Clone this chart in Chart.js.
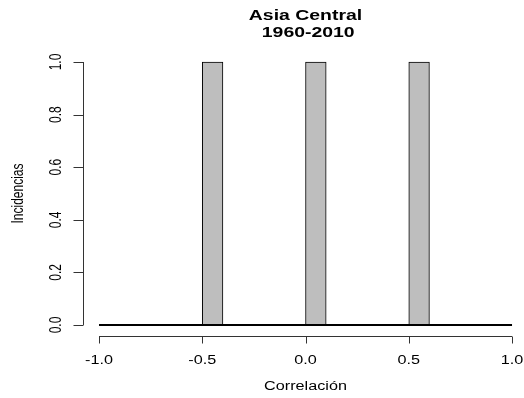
<!DOCTYPE html>
<html>
<head>
<meta charset="utf-8">
<script src="https://cdn.jsdelivr.net/npm/chart.js@4.4.0/dist/chart.umd.min.js"></script>
<style>
  html, body { margin: 0; padding: 0; background: #fff; }
  canvas { display: block; }
</style>
</head>
<body>
<canvas id="histChart" width="524" height="398"></canvas>
<script>
// Histogram data (bins of 0.1 from -1 to 1)
const binStarts = [-1.0, -0.9, -0.8, -0.7, -0.6, -0.5, -0.4, -0.3, -0.2, -0.1,
                   0.0, 0.1, 0.2, 0.3, 0.4, 0.5, 0.6, 0.7, 0.8, 0.9];
const binWidth = 0.1;
const counts = [0, 0, 0, 0, 0, 1, 0, 0, 0, 0,
                1, 0, 0, 0, 0, 1, 0, 0, 0, 0];

const xTickValues = [-1.0, -0.5, 0.0, 0.5, 1.0];
const xTickLabels = ['-1.0', '-0.5', '0.0', '0.5', '1.0'];
const yTickValues = [0.0, 0.2, 0.4, 0.6, 0.8, 1.0];
const yTickLabels = ['0.0', '0.2', '0.4', '0.6', '0.8', '1.0'];

const titleLines = ['Asia Central', ' 1960-2010'];
const xTitle = 'Correlación';
const yTitle = 'Incidencias';

const FONT = '"Liberation Sans", Arial, Helvetica, sans-serif';
const STRETCH = 1.35;

// draws text a bit wider than normal, like the R png output
function drawText(ctx, text, x, y, rotated) {
    ctx.save();
    ctx.translate(x, y);
    ctx.scale(STRETCH, 1);
    if (rotated) ctx.rotate(-Math.PI / 2);
    ctx.textAlign = 'center';
    ctx.textBaseline = 'alphabetic';
    ctx.fillText(text, 0, 0);
    ctx.restore();
}

// R style axes, tick labels and titles
const rAxesPlugin = {
    id: 'rAxes',
    afterDraw: function(chart) {
        const ctx = chart.ctx;
        const xs = chart.scales.x;
        const ys = chart.scales.y;
        const area = chart.chartArea;

        ctx.save();
        ctx.strokeStyle = '#333';
        ctx.lineWidth = 1;

        // y axis
        const yx = Math.round(area.left) + 0.5;
        ctx.beginPath();
        ctx.moveTo(yx, ys.getPixelForValue(yTickValues[0]));
        ctx.lineTo(yx, ys.getPixelForValue(yTickValues[yTickValues.length - 1]));
        yTickValues.forEach(function(v) {
            const py = Math.round(ys.getPixelForValue(v)) + 0.5;
            ctx.moveTo(yx, py);
            ctx.lineTo(yx - 10, py);
        });
        ctx.stroke();

        // x axis
        const xy = Math.round(area.bottom) + 0.5;
        ctx.beginPath();
        ctx.moveTo(xs.getPixelForValue(xTickValues[0]), xy);
        ctx.lineTo(xs.getPixelForValue(xTickValues[xTickValues.length - 1]), xy);
        xTickValues.forEach(function(v) {
            const px = Math.round(xs.getPixelForValue(v)) + 0.5;
            ctx.moveTo(px, xy);
            ctx.lineTo(px, xy + 7);
        });
        ctx.stroke();

        ctx.fillStyle = '#000';
        ctx.font = '12px ' + FONT;
        xTickValues.forEach(function(v, i) {
            drawText(ctx, xTickLabels[i], xs.getPixelForValue(v), xy + 27.5, false);
        });
        yTickValues.forEach(function(v, i) {
            drawText(ctx, yTickLabels[i], yx - 22.5, ys.getPixelForValue(v), true);
        });

        drawText(ctx, xTitle, (xs.getPixelForValue(-1) + xs.getPixelForValue(1)) / 2, 390, false);
        drawText(ctx, yTitle, 23, (ys.getPixelForValue(0) + ys.getPixelForValue(1)) / 2, true);

        ctx.font = 'bold 14.4px ' + FONT;
        const cx = (xs.getPixelForValue(-1) + xs.getPixelForValue(1)) / 2;
        drawText(ctx, titleLines[0], cx, 20, false);
        drawText(ctx, titleLines[1], cx, 36.5, false);
        ctx.restore();
    }
};

const ctx = document.getElementById('histChart');

new Chart(ctx, {
    type: 'bar',
    data: {
        datasets: [{
            type: 'bar',
            data: binStarts.map(function(s, i) { return { x: s + binWidth / 2, y: counts[i] }; }),
            backgroundColor: '#BEBEBE',
            borderColor: '#000',
            borderWidth: 1,
            borderSkipped: false,
            barPercentage: 1,
            categoryPercentage: 1,
            order: 2
        }, {
            // zero-height bins show up as a line along 0
            type: 'line',
            data: [
                { x: binStarts[0], y: 0 },
                { x: binStarts[binStarts.length - 1] + binWidth, y: 0 }
            ],
            borderColor: '#000',
            borderWidth: 2,
            pointRadius: 0,
            fill: false,
            order: 1
        }]
    },
    options: {
        responsive: false,
        animation: false,
        layout: {
            padding: { left: 82.5, right: 4, top: 51.5, bottom: 62.5 }
        },
        plugins: {
            legend: { display: false },
            tooltip: { enabled: false }
        },
        scales: {
            x: {
                type: 'linear',
                offset: false,
                min: -1.08,
                max: 1.0386,
                display: false
            },
            y: {
                min: -0.04,
                max: 1.04,
                display: false
            }
        }
    },
    plugins: [rAxesPlugin]
});
</script>
</body>
</html>
